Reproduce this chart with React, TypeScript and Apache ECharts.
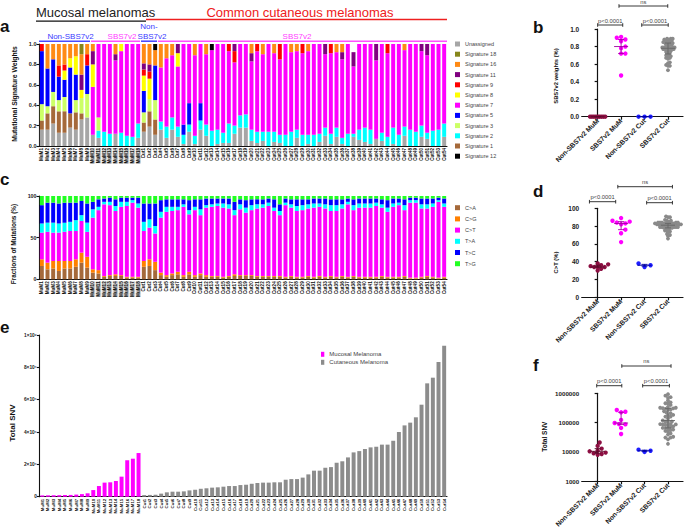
import React, { useEffect, useRef } from "react";
import * as echarts from "echarts";

const FONT = '"Liberation Sans", Arial, Helvetica, sans-serif';

// ---------- categories ----------
const mucosalSamples = Array.from({ length: 18 }, (_, i) => `MuM${i + 1}`);
const cutaneousSamples = Array.from({ length: 54 }, (_, i) => `Cut${i + 1}`);
const samples = [...mucosalSamples, ...cutaneousSamples];
const groupNames = ["Non-SBS7v2 MuM", "SBS7v2 MuM", "Non-SBS7v2 Cut", "SBS7v2 Cut"];

// ---------- panel a : mutational signature weights (MuM1-18, Cut1-54) ----------
const unassigned = [
  .16, .16, .22, .13, .13, .18, .16, .26, .28, .11, .08, 0, 0, .12, 0, 0, 0, .08,
  .14, .19, .11, .16, .08, .16, .09, .02, .14, .02, .16, .10, 0, .02, .03, .03, .12, .18, .18, .05, .03, .05, 0, .04, .03, 0, 0, .08, 0, .02, 0, .04, .10, .02, .09, .02, 0, .09, .06, .04, .02, .07, .05, 0, .02, 0, .10, 0, 0, .09, .07, 0, 0, .09,
];
const sig1 = [
  .09, .16, .17, .21, .21, .14, .17, .06, 0, 0, 0, 0, 0, 0, 0, 0, 0, 0,
  .09, .15, .15, 0, 0, 0, 0, 0, 0, 0, 0, 0, 0, 0, 0, 0, 0, 0, 0, 0, 0, 0, 0, 0, 0, 0, 0, 0, 0, 0, 0, 0, 0, 0, 0, 0, 0, 0, 0, 0, 0, 0, 0, 0, 0, 0, 0, 0, 0, 0, 0, 0, 0, 0,
];
const sig2 = [
  0, 0, 0, 0, 0, 0, 0, 0, 0, 0, .07, .14, .12, 0, .13, .10, .09, .14,
  0, 0, 0, .08, .11, .12, .10, .09, .07, .08, .09, .11, .15, .14, .10, .19, .08, .12, .13, .11, .11, .09, .14, .10, .08, .11, .14, .08, .11, .09, .11, .08, .08, .10, .09, .06, .12, .03, .10, .14, .14, 0, .08, .09, .16, .11, .09, .16, .14, .11, .06, .15, .16, .13,
];
const sig3 = [
  .16, .07, .14, .11, .14, 0, .12, .15, .23, 0, .13, 0, 0, 0, 0, 0, 0, 0,
  .10, .12, .19, 0, 0, 0, 0, 0, 0, 0, 0, 0, 0, 0, 0, 0, 0, 0, 0, 0, 0, 0, 0, 0, 0, 0, 0, 0, 0, 0, 0, 0, 0, 0, 0, 0, 0, 0, 0, 0, 0, 0, 0, 0, 0, 0, 0, 0, 0, 0, 0, 0, 0, 0,
];
const sig5 = [
  .52, .37, .32, .23, .17, .45, .25, 0, .28, 0, 0, 0, 0, 0, 0, 0, 0, 0,
  .21, 0, .34, 0, 0, 0, 0, .10, .21, 0, .17, 0, 0, 0, 0, 0, 0, 0, 0, 0, 0, 0, 0, 0, 0, 0, 0, 0, 0, 0, 0, 0, 0, 0, 0, 0, 0, 0, 0, 0, 0, 0, 0, 0, 0, 0, 0, 0, 0, 0, 0, 0, 0, 0,
];
const sig7 = [
  0, 0, 0, 0, 0, 0, 0, 0, 0, .47, .72, .86, .88, .72, .80, .90, .91, .78,
  0, 0, 0, .53, .67, .61, .59, .79, .58, .79, .58, .69, .79, .84, .87, .71, .62, .70, .69, .67, .79, .76, .86, .77, .74, .89, .78, .77, .80, .82, .89, .88, .72, .79, .74, .77, .88, .66, .84, .82, .84, .77, .87, .82, .82, .89, .75, .84, .86, .73, .76, .85, .84, .78,
];
const sig8 = [
  0, 0, 0, 0, .09, .09, .18, .08, 0, .22, 0, 0, 0, 0, .07, 0, 0, 0,
  .15, .20, 0, 0, 0, 0, .13, 0, 0, 0, 0, 0, 0, 0, 0, 0, 0, 0, 0, 0, 0, 0, 0, 0, 0, 0, 0, 0, 0, 0, 0, 0, 0, 0, 0, 0, 0, 0, .08, 0, 0, 0, 0, 0, 0, 0, 0, 0, 0, 0, 0, 0, 0, 0, 0,
];
const sig9 = [
  .07, 0, 0, .11, .06, 0, 0, 0, .11, 0, 0, 0, 0, 0, 0, 0, 0, 0,
  .06, .07, 0, 0, 0, 0, 0, 0, 0, 0, 0, 0, 0, 0, 0, .07, .11, 0, 0, 0, .07, 0, 0, 0, .15, 0, 0, 0, .09, 0, 0, 0, 0, .09, 0, 0, 0, 0, 0, 0, 0, 0, 0, .09, 0, 0, 0, 0, 0, 0, 0, 0, 0, 0,
];
const sig11 = [
  0, 0, 0, 0, 0, 0, 0, .15, 0, .13, 0, 0, 0, .06, 0, 0, 0, 0,
  .06, .07, 0, 0, 0, 0, .09, 0, 0, 0, 0, 0, 0, 0, 0, 0, .07, 0, 0, .08, 0, 0, 0, 0, 0, 0, 0, 0, 0, 0, 0, 0, .10, 0, 0, .07, 0, .14, 0, 0, 0, .16, 0, 0, 0, 0, 0, 0, 0, .07, .11, 0, 0, 0,
];
const sig16 = [
  0, .24, .15, .21, .20, .14, .12, .20, .10, .07, 0, 0, 0, .10, 0, 0, 0, 0,
  .19, .20, .15, .23, .14, .11, 0, 0, 0, .11, 0, .10, 0, 0, 0, 0, 0, 0, 0, .09, 0, .10, 0, .09, 0, 0, .08, .07, 0, .07, 0, 0, 0, 0, .08, .08, 0, 0, 0, 0, 0, 0, 0, 0, 0, 0, .06, 0, 0, 0, 0, 0, 0, 0,
];
const sig18 = [
  0, 0, 0, 0, 0, 0, 0, .10, 0, 0, 0, 0, 0, 0, 0, 0, 0, 0,
  0, 0, 0, 0, 0, 0, 0, 0, 0, 0, 0, 0, 0, 0, 0, 0, 0, 0, 0, 0, 0, 0, 0, 0, 0, 0, 0, 0, 0, 0, 0, 0, 0, 0, 0, 0, 0, 0, 0, 0, 0, 0, 0, 0, 0, 0, 0, 0, 0, 0, 0, 0, 0, 0,
];
const sig12 = [
  0, 0, 0, 0, 0, 0, 0, 0, 0, 0, 0, 0, 0, 0, 0, 0, 0, 0,
  0, 0, .06, 0, 0, 0, 0, 0, 0, 0, 0, 0, .06, 0, 0, 0, 0, 0, 0, 0, 0, 0, 0, 0, 0, 0, 0, 0, 0, 0, 0, 0, 0, 0, 0, 0, 0, 0, 0, 0, 0, 0, 0, 0, 0, 0, 0, 0, 0, 0, 0, 0, 0, 0,
];

// stack order bottom -> top
const sigSeries = [
  { name: "Unassigned", data: unassigned, color: "#a6a6a6" },
  { name: "Signature 1", data: sig1, color: "#a5693a" },
  { name: "Signature 2", data: sig2, color: "#00ffff" },
  { name: "Signature 3", data: sig3, color: "#ccff66" },
  { name: "Signature 5", data: sig5, color: "#0000ff" },
  { name: "Signature 7", data: sig7, color: "#ff00ff" },
  { name: "Signature 8", data: sig8, color: "#ffff00" },
  { name: "Signature 9", data: sig9, color: "#ff0000" },
  { name: "Signature 11", data: sig11, color: "#800080" },
  { name: "Signature 16", data: sig16, color: "#ff8a14" },
  { name: "Signature 18", data: sig18, color: "#86861a" },
  { name: "Signature 12", data: sig12, color: "#000000" },
];
const sigLegendOrder = ["Unassigned", "Signature 18", "Signature 16", "Signature 11", "Signature 9", "Signature 8", "Signature 7", "Signature 5", "Signature 3", "Signature 2", "Signature 1", "Signature 12"];

// ---------- panel c : fractions of mutations (%) ----------
const cA = [
  16, 12, 13, 10, 13, 13, 15, 20, 14, 8, 7, 3, 4, 4, 4, 2, 2, 2,
  15, 16, 11, 5, 3, 5, 6, 3, 6, 3, 5, 3,
  3, 3, 2, 3, 4, 4, 4, 4, 3, 3, 3, 3, 3, 2, 3, 2, 2, 3, 2, 3, 2, 3, 2, 3, 2, 3, 2, 2, 2, 2, 3, 2, 2, 2, 3, 1, 1, 2, 3, 2, 1, 2,
];
const cG = [
  8, 8, 9, 12, 9, 9, 9, 12, 13, 4, 4, 1, 1, 2, 1, 1, 1, 1,
  7, 8, 10, 3, 2, 2, 3, 2, 3, 2, 2, 2,
  1, 1, 1, 1, 2, 1, 1, 1, 1, 1, 1, 1, 1, 1, 1, 1, 1, 1, 1, 1, 1, 1, 1, 1, 1, 1, 1, 1, 1, 1, 1, 1, 1, 1, 1, 1, 1, 1, 1, 1, 1, 1,
];
const cT = [
  32, 37, 34, 34, 35, 36, 34, 38, 30, 62, 72, 86, 84, 76, 82, 85, 89, 83,
  36, 38, 34, 66, 76, 75, 74, 82, 69, 78, 70, 81,
  83, 84, 83, 81, 71, 79, 75, 78, 81, 82, 84, 78, 73, 86, 82, 79, 80, 81, 83, 83, 82, 78, 79, 81, 87, 79, 83, 83, 83, 85, 82, 78, 84, 86, 79, 90, 90, 82, 81, 84, 91, 84,
];
const tA = [
  11, 11, 12, 11, 11, 11, 13, 7, 11, 10, 4, 3, 4, 6, 6, 5, 3, 5,
  11, 10, 9, 7, 6, 5, 4, 3, 5, 4, 7, 3,
  3, 3, 5, 5, 6, 6, 6, 6, 5, 4, 4, 4, 5, 3, 4, 6, 6, 5, 5, 4, 5, 7, 7, 5, 3, 6, 5, 5, 5, 4, 4, 5, 4, 3, 6, 3, 3, 5, 5, 4, 2, 4,
];
const tC = [
  22, 24, 24, 24, 24, 23, 21, 17, 23, 9, 9, 4, 5, 8, 5, 5, 3, 7,
  22, 19, 27, 14, 9, 9, 9, 6, 12, 9, 12, 8,
  7, 6, 6, 7, 10, 6, 9, 7, 6, 6, 5, 10, 8, 5, 6, 8, 7, 6, 6, 6, 7, 7, 7, 6, 4, 7, 6, 6, 6, 5, 6, 9, 6, 5, 7, 3, 3, 7, 7, 6, 3, 6,
];
const tG = [
  11, 8, 8, 9, 8, 8, 8, 6, 9, 7, 4, 3, 2, 4, 2, 2, 2, 2,
  9, 9, 9, 5, 4, 4, 4, 4, 5, 4, 4, 3,
  3, 3, 3, 3, 7, 4, 5, 4, 4, 4, 3, 4, 10, 3, 4, 4, 4, 4, 3, 3, 3, 4, 4, 4, 3, 4, 3, 3, 3, 3, 4, 5, 3, 3, 4, 2, 2, 3, 3, 3, 2, 3,
];
const mutSeries = [
  { name: "C>A", data: cA, color: "#a5693a" },
  { name: "C>G", data: cG, color: "#ff8000" },
  { name: "C>T", data: cT, color: "#ff00ff" },
  { name: "T>A", data: tA, color: "#00ffff" },
  { name: "T>C", data: tC, color: "#0000ff" },
  { name: "T>G", data: tG, color: "#22ff22" },
];

// ---------- panel e : total SNV (sorted) ----------
const mucosalSNV = [8000, 8500, 9000, 9500, 10500, 11000, 13000, 16000, 21000, 41000, 66000, 87000, 89000, 97000, 124000, 225000, 235000, 270000];
const cutaneousSNV = [10000, 11000, 12000, 19000, 27000, 31000, 31000, 33000, 39000, 43000, 49000, 52000, 56000, 58000, 62000, 66000, 66000, 72000, 74000, 80000, 85000, 87000, 87000, 89000, 89000, 105000, 109000, 109000, 118000, 138000, 161000, 161000, 179000, 183000, 210000, 219000, 243000, 274000, 282000, 295000, 305000, 309000, 322000, 322000, 346000, 400000, 441000, 458000, 491000, 569000, 701000, 736000, 833000, 934000];
const eTickLabels: Record<number, string> = { 0: "0", 200000: "2×10⁵", 400000: "4×10⁵", 600000: "6×10⁵", 800000: "8×10⁵", 1000000: "1×10⁶" };

// ---------- panels b, d, f : groups ----------
const bGroups = [sig7.slice(0, 9), sig7.slice(9, 18), sig7.slice(18, 21), sig7.slice(21)];
const dGroups = [cT.slice(0, 9), cT.slice(9, 18), cT.slice(18, 21), cT.slice(21)];
const fGroups = [mucosalSNV.slice(0, 9), mucosalSNV.slice(9), cutaneousSNV.slice(0, 3), cutaneousSNV.slice(3)];
const groupColors = ["#8c0f42", "#ff00ff", "#1f1fff", "#8a8a8a"];
const medianColors = ["#5a0a2a", "#a000a0", "#0000a0", "#666666"];

// ---------- layout ----------
const GA = { left: 39, top: 44, width: 408, height: 102 };
const GC = { left: 39, top: 196, width: 408, height: 83.3 };
const GE = { left: 39.5, top: 335, width: 407.5, height: 161.7 };
const RL = 581.7, RW = 101.3, X_MIN = -0.68, X_MAX = 3.64;
const GB = { left: RL, top: 29, width: RW, height: 87.7 };
const GD = { left: RL, top: 208.3, width: RW, height: 89 };
const GF = { left: RL, top: 393.3, width: RW, height: 88.4 };
const pxPerUnit = RW / (X_MAX - X_MIN);
const ux = (u: number) => RL + (u - X_MIN) * pxPerUnit;

function quantile(arr: number[], p: number) {
  const s = [...arr].sort((a, b) => a - b);
  const pos = (s.length - 1) * p;
  const lo = Math.floor(pos), hi = Math.ceil(pos);
  return s[lo] + (s[hi] - s[lo]) * (pos - lo);
}

// deterministic beeswarm: returns x offsets in px
function swarm(vals: number[], toPx: (v: number) => number, sep: number) {
  const order = vals.map((_, i) => i).sort((a, b) => vals[a] - vals[b]);
  const placed: { x: number; y: number }[] = [];
  const xs = new Array(vals.length).fill(0);
  const step = sep / 2;
  for (const i of order) {
    const y = toPx(vals[i]);
    for (let k = 0; k < 200; k++) {
      const m = Math.ceil(k / 2);
      const x = k === 0 ? 0 : (k % 2 === 1 ? m : -m) * step;
      if (placed.every((p) => (p.x - x) ** 2 + (p.y - y) ** 2 >= sep * sep - 1e-6)) {
        xs[i] = x;
        placed.push({ x, y });
        break;
      }
    }
  }
  return xs;
}

const axisLineStyle = { color: "#111", width: 1.1 };

function buildOption() {
  const series: any[] = [];

  sigSeries.forEach((s) =>
    series.push({
      type: "bar", name: s.name, stack: "a", xAxisIndex: 0, yAxisIndex: 0,
      data: s.data, barWidth: "70%", itemStyle: { color: s.color },
    })
  );
  mutSeries.forEach((s) =>
    series.push({
      type: "bar", name: s.name, stack: "c", xAxisIndex: 1, yAxisIndex: 1,
      data: s.data, barWidth: "70%", itemStyle: { color: s.color },
    })
  );
  series.push({
    type: "bar", name: "Mucosal Melanoma", stack: "e", xAxisIndex: 2, yAxisIndex: 2,
    data: [...mucosalSNV, ...cutaneousSNV.map(() => "-")], barWidth: "70%", itemStyle: { color: "#ff00ff" },
  });
  series.push({
    type: "bar", name: "Cutaneous Melanoma", stack: "e", xAxisIndex: 2, yAxisIndex: 2,
    data: [...mucosalSNV.map(() => "-"), ...cutaneousSNV], barWidth: "70%", itemStyle: { color: "#8c8c8c" },
  });

  const dotPanels = [
    { idx: 3, groups: bGroups, toPx: (v: number) => -v * GB.height, seps: [1.9, 4.3, 6, 1.9] },
    { idx: 4, groups: dGroups, toPx: (v: number) => -v * GD.height / 100, seps: [3.5, 4.3, 6, 2.0] },
    { idx: 5, groups: fGroups, toPx: (v: number) => -Math.log10(v) * GF.height / 3, seps: [4, 4.3, 6, 2.6] },
  ];
  dotPanels.forEach((p) => {
    p.groups.forEach((vals, g) => {
      const offs = swarm(vals, p.toPx, p.seps[g]);
      series.push({
        type: "scatter", name: `${groupNames[g]} ${p.idx}`, xAxisIndex: p.idx, yAxisIndex: p.idx,
        symbolSize: g === 3 ? 3.8 : 4.4, z: 3,
        itemStyle: { color: groupColors[g], opacity: 1 },
        data: vals.map((v, i) => [g + offs[i] / pxPerUnit, v]),
      });
    });
    series.push({
      type: "custom", name: `median ${p.idx}`, xAxisIndex: p.idx, yAxisIndex: p.idx, z: 4,
      encode: { x: 0, y: 1 },
      data: p.groups.map((vals, g) => [g, quantile(vals, 0.5), quantile(vals, 0.25), quantile(vals, 0.75)]),
      renderItem: (params: any, api: any) => {
        const g = api.value(0);
        const c = api.coord([g, api.value(1)]);
        const c1 = api.coord([g, api.value(2)]);
        const c3 = api.coord([g, api.value(3)]);
        const st = { stroke: medianColors[g], lineWidth: 0.9 };
        return {
          type: "group",
          children: [
            { type: "line", shape: { x1: c[0] - 7, y1: c[1], x2: c[0] + 7, y2: c[1] }, style: st },
            { type: "line", shape: { x1: c[0], y1: c1[1], x2: c[0], y2: c3[1] }, style: st },
            { type: "line", shape: { x1: c[0] - 3, y1: c1[1], x2: c[0] + 3, y2: c1[1] }, style: st },
            { type: "line", shape: { x1: c[0] - 3, y1: c3[1], x2: c[0] + 3, y2: c3[1] }, style: st },
          ],
        };
      },
    });
  });

  const catLabel = (fs: number, highlight: boolean) => ({
    interval: 0, rotate: 90, margin: 2, fontFamily: FONT,
    formatter: (v: string, i: number) => (highlight && i >= 9 && i < 18 ? `{h|${v}}` : `{n|${v}}`),
    rich: {
      n: { fontSize: fs, fontWeight: "bold", color: "#111", fontFamily: FONT },
      h: { fontSize: fs, fontWeight: "bold", color: "#111", fontFamily: FONT, backgroundColor: "#d4d4d4" },
    },
  });
  const catAxis = (gi: number, fs: number, hl: boolean) => ({
    type: "category", gridIndex: gi, data: samples,
    axisLine: { lineStyle: axisLineStyle },
    axisTick: { alignWithLabel: true, length: 2, lineStyle: axisLineStyle },
    axisLabel: catLabel(fs, hl),
  });
  const yLab = (fs: number, fmt: (v: number) => string, bold = true) => ({
    fontSize: fs, fontWeight: bold ? "bold" : "normal", color: "#222", fontFamily: FONT, margin: 2.5, formatter: fmt,
  });
  const rightX = (gi: number) => ({
    type: "value", gridIndex: gi, min: X_MIN, max: X_MAX,
    axisLine: { show: true, onZero: false, lineStyle: { color: "#111", width: 1.2 } },
    axisTick: { show: true, customValues: [0, 1, 2, 3], length: 3, lineStyle: { color: "#111", width: 1.2 } },
    axisLabel: {
      customValues: [0, 1, 2, 3], rotate: 45, margin: 3, fontSize: 6.8, fontWeight: "bold", color: "#222", fontFamily: FONT,
      formatter: (v: number) => groupNames[Math.round(v)] ?? "",
    },
    splitLine: { show: false },
  });
  const rightYBase = {
    axisLine: { show: true, lineStyle: { color: "#111", width: 1.2 } },
    axisTick: { show: true, length: 3, lineStyle: { color: "#111", width: 1.2 } },
    splitLine: { show: false },
  };

  const txt = (text: string, x: number, y: number, size: number, opts: any = {}) => ({
    type: "text", x, y, rotation: opts.rotation ?? 0, silent: true,
    style: {
      text, x: 0, y: 0, fill: opts.color ?? "#111",
      font: `${opts.weight ?? "normal"} ${size}px ${FONT}`,
      align: opts.align ?? "center", verticalAlign: "middle",
      textAlign: opts.align ?? "center", textVerticalAlign: "middle",
    },
  });
  const hline = (x1: number, x2: number, y: number, color: string, w: number) => ({
    type: "line", silent: true, shape: { x1, y1: y, x2, y2: y }, style: { stroke: color, lineWidth: w },
  });
  const bracket = (u1: number, u2: number, y: number, ty: number, label: string) => {
    const x1 = ux(u1), x2 = ux(u2);
    const st = { stroke: "#222", lineWidth: 0.9 };
    return [
      { type: "line", silent: true, shape: { x1, y1: y, x2, y2: y }, style: st },
      { type: "line", silent: true, shape: { x1, y1: y - 1.8, x2: x1, y2: y + 1.8 }, style: st },
      { type: "line", silent: true, shape: { x1: x2, y1: y - 1.8, x2, y2: y + 1.8 }, style: st },
      txt(label, (x1 + x2) / 2, ty, 5.8, { color: "#444" }),
    ];
  };

  const graphic: any[] = [
    // panel letters
    txt("a", 0, 26, 17, { weight: "bold", align: "left" }),
    txt("c", 0, 179, 17, { weight: "bold", align: "left" }),
    txt("e", 0, 327, 17, { weight: "bold", align: "left" }),
    txt("b", 533, 27, 17, { weight: "bold", align: "left" }),
    txt("d", 533, 191, 17, { weight: "bold", align: "left" }),
    txt("f", 533, 365, 17, { weight: "bold", align: "left" }),
    // header
    txt("Mucosal melanomas", 36, 12.8, 13, { align: "left", color: "#222" }),
    hline(36, 146, 21.2, "#111", 1.3),
    txt("Common cutaneous melanomas", 300, 12.8, 13, { color: "#ee2020" }),
    hline(146, 447, 19.5, "#ee2020", 1.3),
    txt("Non-SBS7v2", 70.5, 36.5, 8, { color: "#3a3aff" }),
    txt("SBS7v2", 122, 36.5, 8, { color: "#ff3cff" }),
    txt("Non-", 149, 26.5, 8, { color: "#3a3aff" }),
    txt("SBS7v2", 152, 36.5, 8, { color: "#3a3aff" }),
    txt("SBS7v2", 297, 36.5, 8, { color: "#ff3cff" }),
    hline(39, 90, 41.2, "#4a4aff", 1.6),
    hline(91, 140, 41.2, "#ff50ff", 1.6),
    hline(141, 157, 41.2, "#4a4aff", 1.6),
    hline(158, 447, 41.2, "#ff50ff", 1.6),
    // axis titles
    txt("Mutational Signature Weights", 14, 94, 6.8, { weight: "bold", rotation: Math.PI / 2 }),
    txt("Fractions of Mutations (%)", 13.5, 244, 6.4, { weight: "bold", rotation: Math.PI / 2 }),
    txt("Total SNV", 12, 423, 8, { weight: "bold", rotation: Math.PI / 2 }),
    txt("SBS7v2 weights (%)", 555.5, 76, 5.8, { weight: "bold", rotation: Math.PI / 2 }),
    txt("C>T (%)", 555.5, 262.5, 5.8, { weight: "bold", rotation: Math.PI / 2 }),
    txt("Total SNV", 544, 436.7, 6.5, { weight: "bold", rotation: Math.PI / 2 }),
    // significance brackets
    ...bracket(0.0, 1.07, 25, 21.3, "p<0.0001"),
    ...bracket(1.88, 3.01, 25, 21.3, "p<0.0001"),
    ...bracket(0.91, 2.99, 6, 1.8, "ns"),
    ...bracket(-0.35, 0.77, 201.7, 197, "p<0.0001"),
    ...bracket(2.09, 3.19, 202.7, 198, "p<0.0001"),
    ...bracket(0.86, 3.19, 186.7, 182, "ns"),
    ...bracket(-0.04, 1.03, 385.7, 381, "p<0.0001"),
    ...bracket(1.92, 3.06, 385.7, 381, "p<0.0001"),
    ...bracket(1.03, 3.13, 366, 361.3, "ns"),
  ];

  const legendText = { fontFamily: FONT, fontSize: 5.5, color: "#444", lineHeight: 6 };

  return {
    animation: false,
    backgroundColor: "#ffffff",
    grid: [GA, GC, GE, GB, GD, GF].map((g) => ({ ...g, containLabel: false })),
    legend: [
      {
        data: sigLegendOrder, orient: "vertical", left: 455, top: 41, itemWidth: 5, itemHeight: 5,
        itemGap: 4.2, itemTextGap: 5, icon: "rect", selectedMode: false, textStyle: legendText, padding: 0,
      },
      {
        data: mutSeries.map((s) => s.name), orient: "vertical", left: 455, top: 204.7, itemWidth: 5, itemHeight: 5,
        itemGap: 5.2, itemTextGap: 5, icon: "rect", selectedMode: false, textStyle: legendText, padding: 0,
      },
      {
        data: ["Mucosal Melanoma", "Cutaneous Melanoma"], orient: "vertical", left: 321, top: 351.3, itemWidth: 3.3, itemHeight: 5,
        itemGap: 2, itemTextGap: 7.4, icon: "rect", selectedMode: false, padding: 0,
        textStyle: { fontFamily: FONT, fontSize: 6, color: "#444", lineHeight: 6 },
      },
    ],
    xAxis: [
      catAxis(0, 4.6, true),
      catAxis(1, 4.6, true),
      catAxis(2, 4.4, false),
      rightX(3),
      rightX(4),
      rightX(5),
    ],
    yAxis: [
      {
        type: "value", gridIndex: 0, min: 0, max: 1, interval: 0.2,
        axisLine: { show: true, lineStyle: axisLineStyle }, axisTick: { show: true, length: 2.5, lineStyle: axisLineStyle },
        splitLine: { show: false }, axisLabel: yLab(5.5, (v) => v.toFixed(1)),
      },
      {
        type: "value", gridIndex: 1, min: 0, max: 100, interval: 50,
        axisLine: { show: true, lineStyle: axisLineStyle }, axisTick: { show: true, length: 2.5, lineStyle: axisLineStyle },
        splitLine: { show: false }, axisLabel: yLab(5.3, (v) => String(v)),
      },
      {
        type: "value", gridIndex: 2, min: 0, max: 1000000, interval: 200000,
        axisLine: { show: true, lineStyle: axisLineStyle }, axisTick: { show: true, length: 2.5, lineStyle: axisLineStyle },
        splitLine: { show: false }, axisLabel: yLab(4.8, (v) => eTickLabels[v] ?? ""),
      },
      { type: "value", gridIndex: 3, min: 0, max: 1, interval: 0.2, ...rightYBase, axisLabel: yLab(6.5, (v) => v.toFixed(1)) },
      { type: "value", gridIndex: 4, min: 0, max: 100, interval: 20, ...rightYBase, axisLabel: yLab(6.5, (v) => String(v)) },
      { type: "log", logBase: 10, gridIndex: 5, min: 1000, max: 1000000, ...rightYBase, axisLabel: yLab(6.2, (v) => String(Math.round(v))) },
    ],
    series,
    graphic,
  };
}

export default function App() {
  const ref = useRef<HTMLDivElement>(null);
  useEffect(() => {
    document.body.style.margin = "0";
    const chart = echarts.init(ref.current!, null, { renderer: "svg" });
    chart.setOption(buildOption() as any);
    return () => chart.dispose();
  }, []);
  return <div ref={ref} style={{ width: 685, height: 530 }} />;
}
